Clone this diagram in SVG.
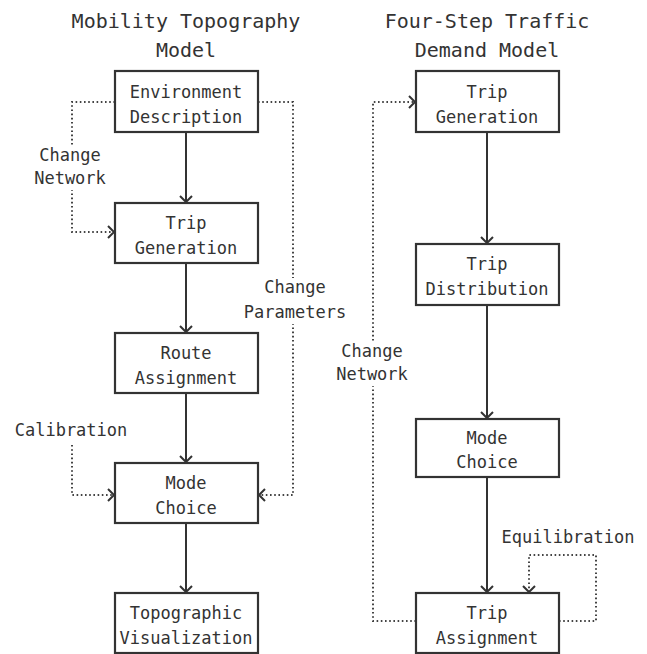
<svg xmlns="http://www.w3.org/2000/svg" width="647" height="654" viewBox="0 0 647 654">
<style>
.t{font-family:"DejaVu Sans Mono","Liberation Mono",monospace;fill:#333;text-anchor:middle}
.title{font-size:20px}
.lbl{font-size:17px}
.box{fill:#fff;stroke:#333;stroke-width:2.2}
.solid{fill:none;stroke:#333;stroke-width:2}
.dot{fill:none;stroke:#444;stroke-width:2;stroke-dasharray:1.6 2.6}
.bg{fill:#fff}
</style>
<defs>
<marker id="ah" markerUnits="userSpaceOnUse" markerWidth="16" markerHeight="16" viewBox="-10 -8 12 16" refX="0" refY="0" orient="auto">
<path d="M-6,-6 L0,0 L-6,6" fill="none" stroke="#333" stroke-width="2"/>
</marker>
</defs>
<rect width="647" height="654" fill="#fff"/>
<text class="t title" x="186" y="28">Mobility Topography</text>
<text class="t title" x="186" y="57">Model</text>
<text class="t title" x="487" y="28">Four-Step Traffic</text>
<text class="t title" x="487" y="57">Demand Model</text>
<g id="connectors">
<path class="solid" d="M186,132 V202" marker-end="url(#ah)"/>
<path class="solid" d="M186,263 V332" marker-end="url(#ah)"/>
<path class="solid" d="M186,393 V462" marker-end="url(#ah)"/>
<path class="solid" d="M186,523 V592" marker-end="url(#ah)"/>
<path class="solid" d="M487,132 V243" marker-end="url(#ah)"/>
<path class="solid" d="M487,305 V418" marker-end="url(#ah)"/>
<path class="solid" d="M487,477 V592" marker-end="url(#ah)"/>
<path class="dot" d="M115,102 H72 V232 H114" marker-end="url(#ah)"/>
<path class="dot" d="M258,102 H293 V495 H259" marker-end="url(#ah)"/>
<path class="dot" d="M72,445 V495 H114" marker-end="url(#ah)"/>
<path class="dot" d="M416,621 H373 V102 H415" marker-end="url(#ah)"/>
<path class="dot" d="M559,621 H596 V555 H529 V592" marker-end="url(#ah)"/>
<rect class="bg" x="33" y="146" width="78" height="44"/>
<text class="t lbl" x="70" y="161">Change</text>
<text class="t lbl" x="70" y="184">Network</text>
<rect class="bg" x="240" y="278" width="110" height="46"/>
<text class="t lbl" x="295" y="293">Change</text>
<text class="t lbl" x="295" y="318">Parameters</text>
<rect class="bg" x="13" y="421" width="118" height="20"/>
<text class="t lbl" x="71" y="436">Calibration</text>
<rect class="bg" x="333" y="342" width="78" height="44"/>
<text class="t lbl" x="372" y="357">Change</text>
<text class="t lbl" x="372" y="380">Network</text>
<text class="t lbl" x="568" y="543">Equilibration</text>
</g>
<g id="n_env"><rect class="box" x="115" y="71" width="143" height="61"/><text class="t lbl" x="186" y="98">Environment</text><text class="t lbl" x="186" y="123">Description</text></g>
<g id="n_tripgen_l"><rect class="box" x="115" y="203" width="143" height="60"/><text class="t lbl" x="186" y="229">Trip</text><text class="t lbl" x="186" y="254">Generation</text></g>
<g id="n_route"><rect class="box" x="115" y="333" width="143" height="60"/><text class="t lbl" x="186" y="359">Route</text><text class="t lbl" x="186" y="384">Assignment</text></g>
<g id="n_mode_l"><rect class="box" x="115" y="463" width="143" height="60"/><text class="t lbl" x="186" y="489">Mode</text><text class="t lbl" x="186" y="514">Choice</text></g>
<g id="n_topo"><rect class="box" x="115" y="593" width="143" height="60"/><text class="t lbl" x="186" y="619">Topographic</text><text class="t lbl" x="186" y="644">Visualization</text></g>
<g id="n_tripgen_r"><rect class="box" x="416" y="71" width="143" height="61"/><text class="t lbl" x="487" y="98">Trip</text><text class="t lbl" x="487" y="123">Generation</text></g>
<g id="n_dist"><rect class="box" x="416" y="244" width="143" height="61"/><text class="t lbl" x="487" y="270">Trip</text><text class="t lbl" x="487" y="295">Distribution</text></g>
<g id="n_mode_r"><rect class="box" x="416" y="419" width="143" height="58"/><text class="t lbl" x="487" y="444">Mode</text><text class="t lbl" x="487" y="468">Choice</text></g>
<g id="n_assign"><rect class="box" x="416" y="593" width="143" height="60"/><text class="t lbl" x="487" y="619">Trip</text><text class="t lbl" x="487" y="644">Assignment</text></g>
</svg>
